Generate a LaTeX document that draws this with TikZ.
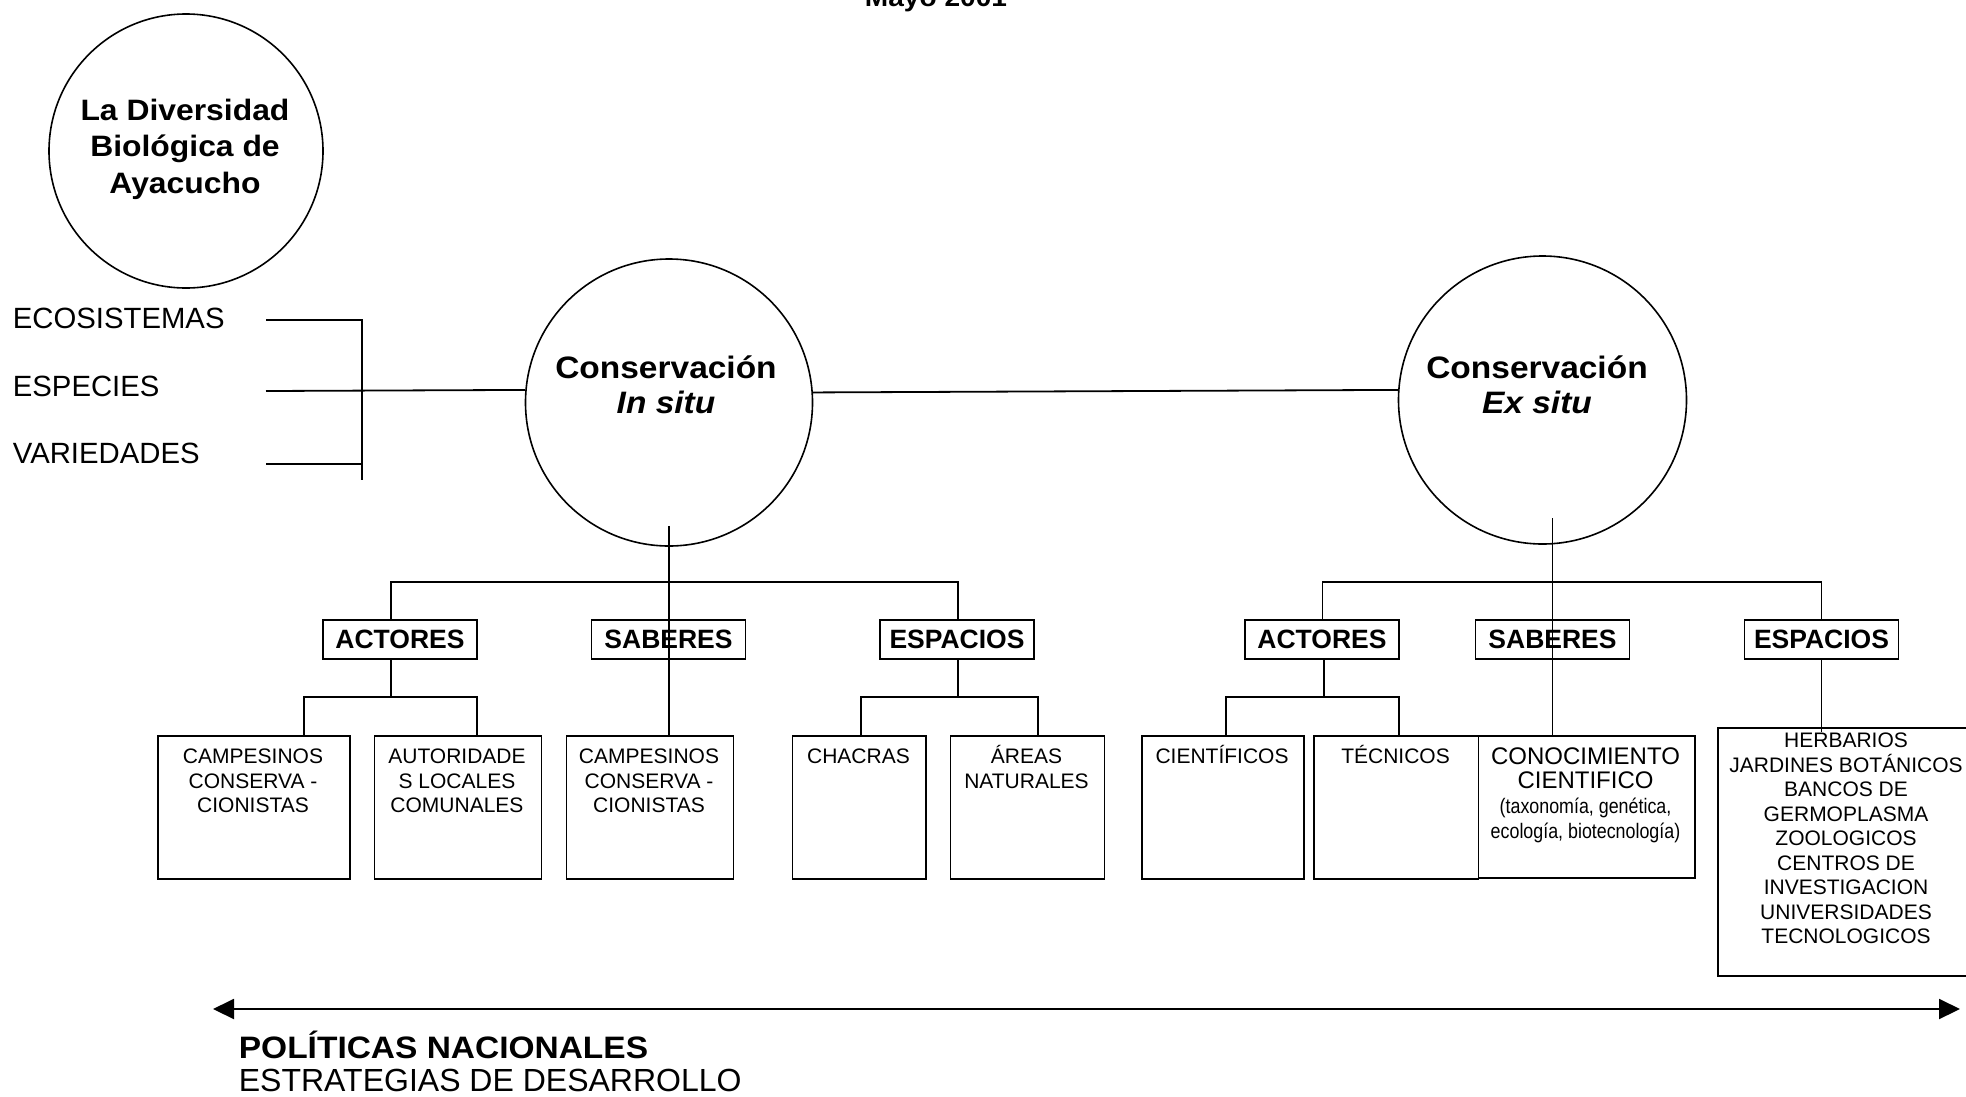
\documentclass[tikz,border=0pt]{standalone}
\usepackage{fontspec}
\setmainfont{Liberation Sans}
\newfontfamily\widesans[FakeStretch=1.08]{Liberation Sans}
\newfontfamily\narrowsans[FakeStretch=0.85]{Liberation Sans}
\usetikzlibrary{arrows.meta}
\newcommand\tlines[1]{\parbox[t]{420pt}{\centering #1}}

\begin{document}
\begin{tikzpicture}[x=1pt, y=-1pt, line width=1.8pt,
  disc/.style={circle, draw, line width=1.6pt, inner sep=0pt},
  headbox/.style={draw, line width=1.8pt, inner sep=0pt, minimum width=154pt,
    minimum height=39pt, font=\fontsize{26.5}{30}\selectfont\bfseries},
  leafbox/.style={draw, line width=1.8pt, inner sep=0pt, anchor=north west},
  txt/.style={inner sep=0pt, anchor=base},
  leaftxt/.style={txt, font=\fontsize{21}{24.5}\selectfont},
  circtxt/.style={txt, font=\widesans\bfseries\fontsize{31}{35}\selectfont},
  listtxt/.style={inner sep=0pt, anchor=base west, font=\fontsize{29.3}{32}\selectfont}]

\clip (0,0) rectangle (1966,1096);

% heading (date)
\node[txt, font=\widesans\bfseries\fontsize{26}{30}\selectfont] (date) at (936,6) {Mayo 2001};

% main circle
\node[disc, minimum size=274pt] (diver) at (186,151) {};
\node[txt, font=\widesans\bfseries\fontsize{29.5}{36.7}\selectfont] (diverT) at (185,120)
  {\tlines{La Diversidad\\Biológica de\\Ayacucho}};

% levels of diversity
\node[listtxt] (eco) at (12,328) {ECOSISTEMAS};
\node[listtxt] (esp) at (12,396.5) {ESPECIES};
\node[listtxt] (var) at (12,463.5) {VARIEDADES};

% conservation circles
\node[disc, minimum size=287pt] (insitu) at (669,402.5) {};
\node[circtxt] (insituT) at (666,378) {\tlines{Conservación\\\itshape In situ}};
\node[disc, minimum size=288pt] (exsitu) at (1542.5,400) {};
\node[circtxt] (exsituT) at (1537,378) {\tlines{Conservación\\\itshape Ex situ}};

% bracket joining the levels to in situ
\coordinate (k1) at (266,320);
\coordinate (k1r) at (362,320);
\coordinate (k2) at (266,391);
\coordinate (k3) at (266,464);
\coordinate (k3r) at (362,464);
\coordinate (kb) at (362,480);
\draw (k1) -- (k1r) -- (kb);
\draw (k3) -- (k3r);
\draw (k2) -- (insitu.175.4);
\draw (insitu.4.6) -- (exsitu.176.4);

% ---------- in situ branch ----------
\node[headbox] (a1) at (400,639.5) {ACTORES};
\node[headbox] (s1) at (668.5,639.5) {SABERES};
\node[headbox] (e1) at (957,639.5) {ESPACIOS};

\node[leafbox, minimum width=192pt, minimum height=143pt] (b1) at (157,735) {};
\node[leafbox, minimum width=167pt, minimum height=143pt] (b2) at (373.5,735) {};
\node[leafbox, minimum width=167pt, minimum height=143pt] (b3) at (565.5,735) {};
\node[leafbox, minimum width=133.5pt, minimum height=143pt] (b4) at (791.5,735) {};
\node[leafbox, minimum width=154pt, minimum height=143pt] (b5) at (949.5,735) {};

\node[leaftxt] (b1T) at (253,763.5) {\tlines{CAMPESINOS\\CONSERVA -\\CIONISTAS}};
\node[leaftxt] (b2T) at (457,763.5) {\tlines{AUTORIDADE\\S LOCALES\\COMUNALES}};
\node[leaftxt] (b3T) at (649,763.5) {\tlines{CAMPESINOS\\CONSERVA -\\CIONISTAS}};
\node[leaftxt] (b4T) at (858.5,763.5) {CHACRAS};
\node[leaftxt] (b5T) at (1026.5,763.5) {\tlines{ÁREAS\\NATURALES}};

\coordinate (isA) at (391,582);
\coordinate (isE) at (958,582);
\draw ([yshift=21pt]insitu.south) -- (insitu.south |- b3.north);
\draw (isA |- a1.north) -- (isA) -- (isE) -- (isE |- e1.north);

\coordinate (aj) at (391,697);
\coordinate (aL) at (304,697);
\coordinate (aR) at (477,697);
\draw (aj |- a1.south) -- (aj);
\draw (aL |- b1.north) -- (aL) -- (aR) -- (aR |- b2.north);

\coordinate (ej) at (958,697);
\coordinate (eL) at (861,697);
\coordinate (eR) at (1038,697);
\draw (ej |- e1.south) -- (ej);
\draw (eL |- b4.north) -- (eL) -- (eR) -- (eR |- b5.north);

% ---------- ex situ branch ----------
\node[headbox] (a2) at (1322,639.5) {ACTORES};
\node[headbox] (s2) at (1552.5,639.5) {SABERES};
\node[headbox] (e2) at (1821.5,639.5) {ESPACIOS};

\node[leafbox, minimum width=162pt, minimum height=143pt] (b6) at (1141,735) {};
\node[leafbox, minimum width=164.5pt, minimum height=143pt] (b7) at (1313,735) {};
\node[leafbox, minimum width=216.5pt, minimum height=142pt] (b8) at (1477.5,735) {};
\node[leafbox, minimum width=258pt, minimum height=248pt] (b9) at (1717,727) {};

\node[leaftxt] (b6T) at (1222,763.5) {CIENTÍFICOS};
\node[leaftxt] (b7T) at (1395.5,763.5) {TÉCNICOS};
\node[txt, font=\fontsize{24}{24}\selectfont] (b8T) at (1585.5,764.5)
  {\tlines{CONOCIMIENTO\\CIENTIFICO\par
   \narrowsans\fontsize{21}{25}\selectfont (taxonomía, genética,\\ecología, biotecnología)}};
\node[leaftxt] (b9T) at (1846,747.5) {\tlines{HERBARIOS\\JARDINES BOTÁNICOS\\BANCOS DE\\GERMOPLASMA\\ZOOLOGICOS\\CENTROS DE\\INVESTIGACION\\UNIVERSIDADES\\TECNOLOGICOS}};

\coordinate (xj) at (1552.5,582);
\coordinate (xA) at (1322.5,582);
\coordinate (xE) at (1821.5,582);
\draw (xj |- 0,518) -- (xj) -- (xj |- b8.north);
\draw (xA |- a2.north) -- (xA) -- (xE) -- (xE |- e2.north);
\draw (xE |- e2.south) -- ([yshift=-5pt]xE |- b9.north);

\coordinate (xaj) at (1324,697);
\coordinate (xaL) at (1226,697);
\coordinate (xaR) at (1399,697);
\draw (xaj |- a2.south) -- (xaj);
\draw (xaL |- b6.north) -- (xaL) -- (xaR) -- (xaR |- b7.north);

% ---------- national policies ----------
\coordinate (polL) at (213,1009);
\coordinate (polR) at (1960,1009);
\draw[line width=2pt, {Triangle[length=21pt,width=20pt]}-{Triangle[length=21pt,width=20pt]}] (polL) -- (polR);
\node[inner sep=0pt, anchor=base west, font=\widesans\bfseries\fontsize{31}{35}\selectfont] (pol) at (238,1058) {POLÍTICAS NACIONALES};
\node[inner sep=0pt, anchor=base west, font=\fontsize{32}{35}\selectfont] (estr) at (238,1091) {ESTRATEGIAS DE DESARROLLO};
\end{tikzpicture}
\end{document}
